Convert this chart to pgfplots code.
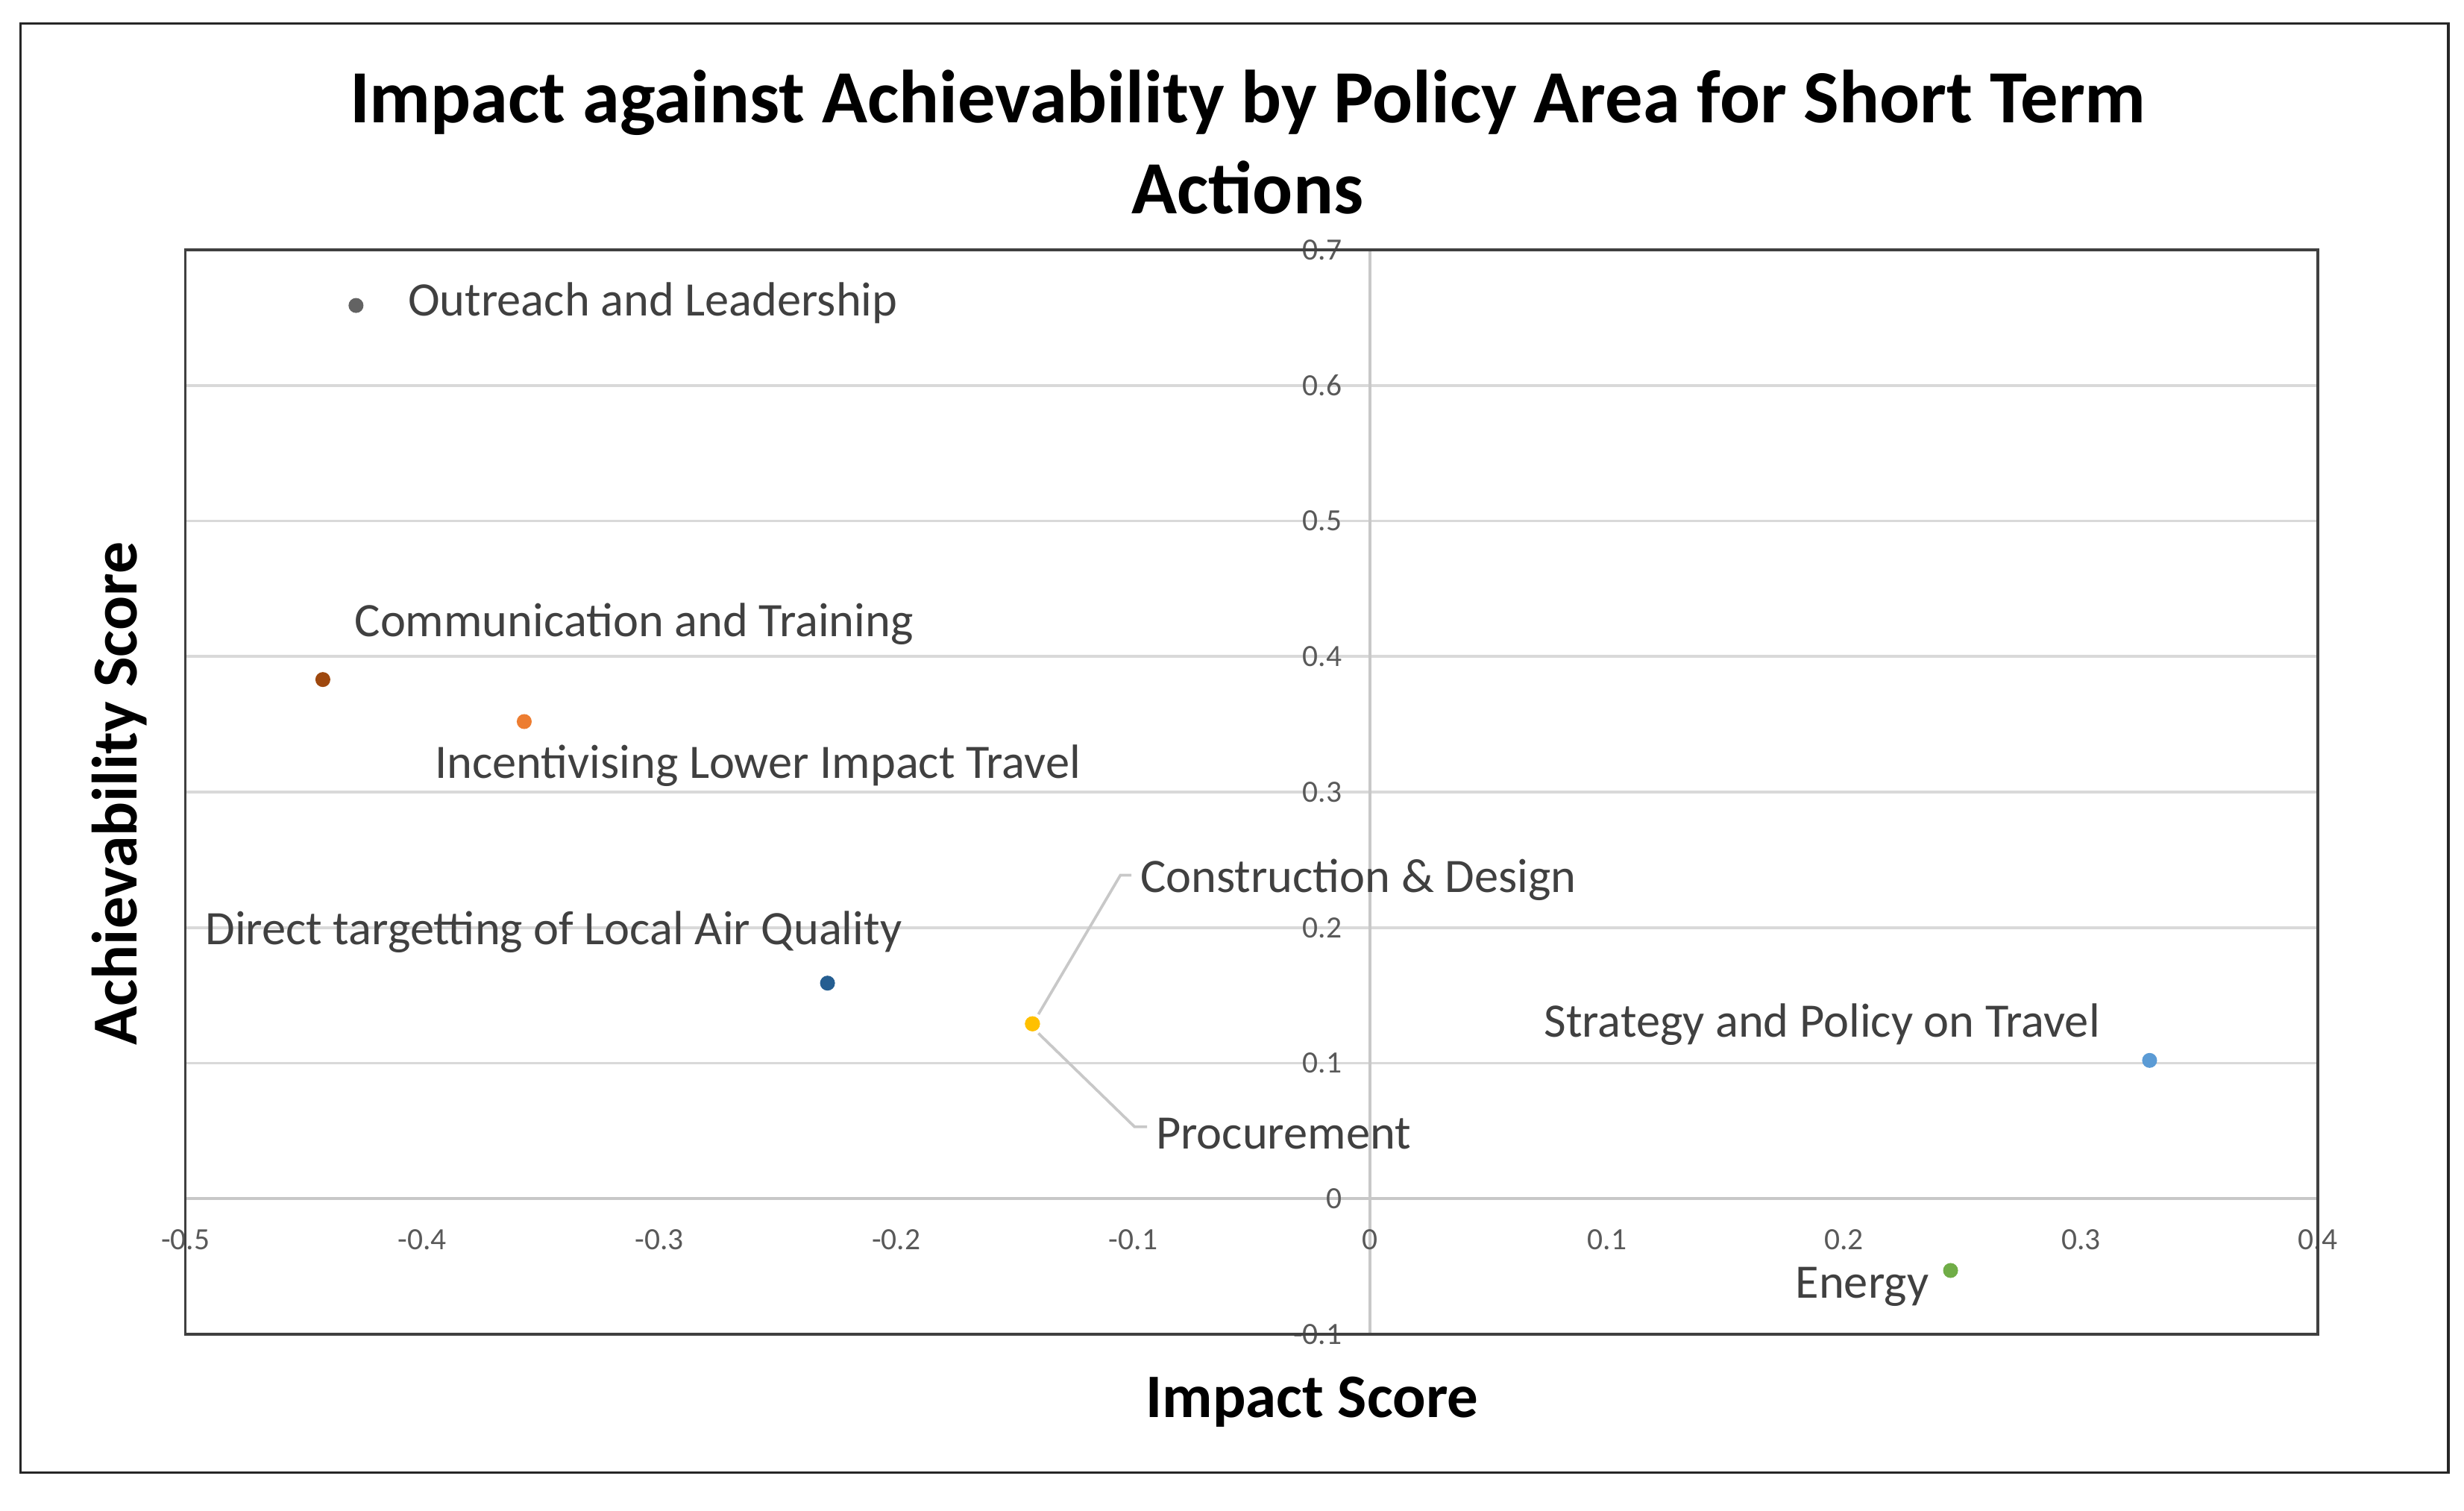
\documentclass[border=0pt]{standalone}
\usepackage{fontspec}
\setmainfont{Carlito}
\usepackage{pgfplots}
\pgfplotsset{compat=1.18}

\definecolor{framec}{HTML}{262626}
\definecolor{boxc}{HTML}{404040}
\definecolor{gridc}{HTML}{D9D9D9}
\definecolor{axisc}{HTML}{C8C8C8}
\definecolor{tickc}{HTML}{595959}
\definecolor{labelc}{HTML}{404040}
\definecolor{cOutreach}{HTML}{636363}
\definecolor{cComm}{HTML}{9E480E}
\definecolor{cIncent}{HTML}{ED7D31}
\definecolor{cDirect}{HTML}{255E91}
\definecolor{cConstr}{HTML}{FFC000}
\definecolor{cStrat}{HTML}{5B9BD5}
\definecolor{cEnergy}{HTML}{70AD47}

\pgfplotsset{pt/.style={only marks, mark=*, mark size=1.15pt, mark options={fill=#1, draw=#1}}}

\begin{document}
\begin{tikzpicture}[x=0.1mm, y=-0.1mm]
% page size and outer frame (units: 0.1 mm, y downwards)
\path[use as bounding box] (0,0) rectangle (1568,961.5);
\draw[framec, line width=0.5pt] (13,15) rectangle (1558,937);

% title
\node[font=\bfseries\fontsize{13.6}{16}\selectfont, anchor=base, inner sep=0] at (794,78)
  {Impact against Achievability by Policy Area for Short Term};
\node[font=\bfseries\fontsize{13.6}{16}\selectfont, anchor=base, inner sep=0] at (794,136)
  {Actions};

% axis titles
\node[font=\bfseries\fontsize{11.2}{13}\selectfont, anchor=base, inner sep=0] at (835,902)
  {Impact Score};
\node[font=\bfseries\fontsize{11.6}{13}\selectfont, anchor=base, inner sep=0, rotate=90] at (87,505)
  {Achievability Score};

\begin{axis}[
    at={(11.8mm,-84.9mm)}, anchor=south west,
    scale only axis,
    width=135.7mm, height=69mm,
    xmin=-0.5, xmax=0.4,
    ymin=-0.1, ymax=0.7,
    axis lines=middle,
    axis line style={-, draw=axisc, line width=0.5pt},
    hide obscured x ticks=false,
    hide obscured y ticks=false,
    xtick={-0.5,-0.4,-0.3,-0.2,-0.1,0,0.1,0.2,0.3,0.4},
    ytick={-0.1,0,0.1,0.2,0.3,0.4,0.5,0.6,0.7},
    major tick length=0pt,
    ymajorgrids,
    grid style={gridc, line width=0.5pt},
    /pgf/number format/assume math mode=true,
    /pgf/number format/fixed,
    /pgf/number format/precision=1,
    tick label style={font=\fontsize{5.6}{6}\selectfont, text=tickc},
    xticklabel style={anchor=center, yshift=-2.6mm},
    yticklabel style={anchor=east, xshift=-0.55mm},
    clip=false,
]
\draw[boxc, line width=0.45pt] (rel axis cs:0,0) rectangle (rel axis cs:1,1);

\addplot[pt=cOutreach] coordinates {(-0.428,0.659)};
\addplot[pt=cComm] coordinates {(-0.442,0.383)};
\addplot[pt=cIncent] coordinates {(-0.357,0.352)};
\addplot[pt=cDirect] coordinates {(-0.229,0.159)};
\addplot[pt=cConstr] coordinates {(-0.1425,0.129)};
\addplot[pt=cConstr] coordinates {(-0.1425,0.129)};
\addplot[pt=cStrat] coordinates {(0.329,0.102)};
\addplot[pt=cEnergy] coordinates {(0.245,-0.053)};

% leader lines
\draw[axisc, line width=0.5pt] (axis cs:-0.1400,0.136) -- (axis cs:-0.1054,0.2386) -- (axis cs:-0.1007,0.2386);
\draw[axisc, line width=0.5pt] (axis cs:-0.1400,0.122) -- (axis cs:-0.0994,0.053) -- (axis cs:-0.0941,0.053);

% data labels
\begin{scope}[every node/.style={anchor=base west, inner sep=0, text=labelc, font=\fontsize{8.7}{10}\selectfont}]
\node at (axis cs:-0.4065,0.6513) {Outreach and Leadership};
\node at (axis cs:-0.429,0.4148) {Communication and Training};
\node at (axis cs:-0.3952,0.3104) {Incentivising Lower Impact Travel};
\node at (axis cs:-0.492,0.1875) {Direct targetting of Local Air Quality};
\node at (axis cs:-0.0974,0.2258) {Construction \& Design};
\node at (axis cs:-0.0908,0.0368) {Procurement};
\node at (axis cs:0.073,0.1191) {Strategy and Policy on Travel};
\node at (axis cs:0.1791,-0.0733) {Energy};
\end{scope}
\end{axis}
\end{tikzpicture}
\end{document}
